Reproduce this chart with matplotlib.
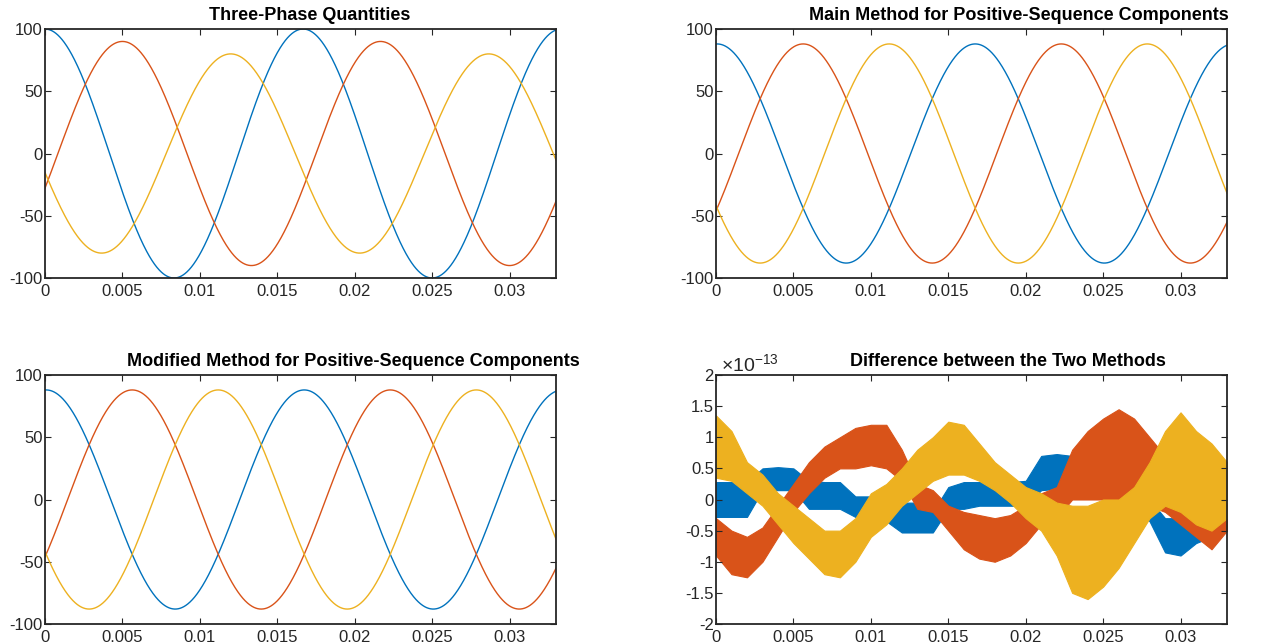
import numpy as np
import matplotlib
matplotlib.use('Agg')
import matplotlib.pyplot as plt

plt.rcParams['font.family'] = ['Liberation Sans', 'DejaVu Sans']
plt.rcParams['axes.unicode_minus'] = False
plt.rcParams['mathtext.fontset'] = 'custom'
plt.rcParams['mathtext.rm'] = 'Liberation Sans'
plt.rcParams['mathtext.it'] = 'Liberation Sans:italic'

# ---------------- data ----------------
freq_hz = 60.0
t_end = 0.033
# three-phase quantities (amplitude, phase in degrees of a cosine)
phase_amp = [100, 90, 80]
phase_deg = [0, -108, 101]
# positive-sequence components (same for main and modified method)
posseq_amp = [88, 88, 88]
posseq_deg = [-1.6, -121.6, 118.4]

xtick_vals = [0, 0.005, 0.01, 0.015, 0.02, 0.025, 0.03]
xtick_labels = ['0', '0.005', '0.01', '0.015', '0.02', '0.025', '0.03']
ytick_vals = [-100, -50, 0, 50, 100]
ytick_labels = ['-100', '-50', '0', '50', '100']
dtick_vals = [-2, -1.5, -1, -0.5, 0, 0.5, 1, 1.5, 2]
dtick_labels = ['-2', '-1.5', '-1', '-0.5', '0', '0.5', '1', '1.5', '2']

titles = ['Three-Phase Quantities',
          'Main Method for Positive-Sequence Components',
          'Modified Method for Positive-Sequence Components',
          'Difference between the Two Methods']

# difference between methods: envelope (x 1e-13) sampled every 1 ms
diff_t_ms = list(range(0, 34))
blue_lo = [-0.28, -0.28, -0.28, 0.15, 0.15, 0.15, -0.15, -0.15, -0.15, -0.28, -0.28, -0.35,
           -0.53, -0.53, -0.53, -0.15, -0.15, -0.10, -0.10, -0.10, -0.10, 0.15, 0.17, 0.17,
           0.10, 0.0, 0.0, -0.10, -0.35, -0.85, -0.90, -0.70, -0.60, -0.40]
blue_hi = [0.28, 0.28, 0.28, 0.50, 0.52, 0.50, 0.30, 0.28, 0.28, 0.05, 0.05, 0.0,
           -0.05, -0.05, -0.20, 0.20, 0.28, 0.28, 0.28, 0.28, 0.30, 0.70, 0.73, 0.70,
           0.50, 0.40, 0.35, 0.30, 0.0, -0.30, -0.30, -0.10, 0.10, 0.10]
red_lo = [-0.9, -1.2, -1.25, -1.0, -0.6, -0.2, 0.1, 0.35, 0.5, 0.5, 0.55, 0.5,
          0.3, -0.15, -0.2, -0.5, -0.8, -0.95, -1.0, -0.9, -0.7, -0.4, -0.3, 0.0,
          0.0, 0.0, 0.0, 0.0, -0.1, -0.2, -0.4, -0.6, -0.8, -0.5]
red_hi = [-0.3, -0.5, -0.6, -0.45, -0.1, 0.25, 0.6, 0.85, 1.0, 1.15, 1.2, 1.2,
          0.8, 0.25, 0.15, -0.1, -0.2, -0.25, -0.3, -0.25, -0.1, 0.1, 0.2, 0.8,
          1.1, 1.3, 1.45, 1.3, 1.0, 0.7, 0.5, 0.3, 0.1, 0.0]
yel_lo = [0.35, 0.3, 0.1, -0.1, -0.4, -0.7, -0.95, -1.2, -1.25, -1.0, -0.6, -0.4,
          -0.1, 0.1, 0.3, 0.4, 0.4, 0.3, 0.15, -0.05, -0.3, -0.5, -0.9, -1.5,
          -1.6, -1.4, -1.1, -0.7, -0.3, -0.1, -0.2, -0.4, -0.5, -0.3]
yel_hi = [1.35, 1.1, 0.6, 0.4, 0.1, -0.1, -0.3, -0.5, -0.5, -0.3, 0.1, 0.25,
          0.5, 0.8, 1.0, 1.25, 1.2, 0.9, 0.6, 0.4, 0.2, 0.1, -0.05, -0.1,
          -0.1, 0.0, 0.0, 0.2, 0.6, 1.1, 1.4, 1.1, 0.9, 0.6]

colors = ['#0072BD', '#D95319', '#EDB120']
ink = '#262626'
tick_fs = 12

# ---------------- figure ----------------
W, H = 1280, 644
fig = plt.figure(figsize=(W / 100, H / 100), dpi=100)


def make_axes(l, r, top, bot):
    return fig.add_axes([l / W, 1 - bot / H, (r - l) / W, (bot - top) / H])


ax_tl = make_axes(45, 556, 29, 278)
ax_tr = make_axes(716, 1227, 29, 278)
ax_bl = make_axes(45, 556, 375, 624)
ax_br = make_axes(716, 1227, 375, 624)


def style(ax, yv, yl):
    ax.set_xlim(0, t_end)
    ax.set_xticks(xtick_vals)
    ax.set_xticklabels(xtick_labels)
    ax.set_yticks(yv)
    ax.set_yticklabels(yl)
    ax.set_ylim(yv[0], yv[-1])
    ax.tick_params(direction='in', top=True, right=True, length=4, width=0.8,
                   colors=ink, labelsize=tick_fs)
    ax.tick_params(axis='x', pad=4)
    ax.tick_params(axis='y', pad=1.5)
    for s in ax.spines.values():
        s.set_linewidth(1.3)
        s.set_color(ink)


t = np.linspace(0, t_end, 3301)
w = 2 * np.pi * freq_hz

for a, p, c in zip(phase_amp, phase_deg, colors):
    ax_tl.plot(t, a * np.cos(w * t + np.deg2rad(p)), color=c, lw=1.0)
for ax in (ax_tr, ax_bl):
    for a, p, c in zip(posseq_amp, posseq_deg, colors):
        ax.plot(t, a * np.cos(w * t + np.deg2rad(p)), color=c, lw=1.0)

td = np.array(diff_t_ms) / 1000.0
for lo, hi, c in [(blue_lo, blue_hi, colors[0]), (red_lo, red_hi, colors[1]),
                  (yel_lo, yel_hi, colors[2])]:
    ax_br.fill_between(td, lo, hi, color=c, lw=0.8, edgecolor=c)

for ax in (ax_tl, ax_tr, ax_bl):
    style(ax, ytick_vals, ytick_labels)
style(ax_br, dtick_vals, dtick_labels)
ax_br.text(0.01, 1.0, r'$\times10^{-13}$', transform=ax_br.transAxes,
           ha='left', va='bottom', fontsize=14, color=ink)

# titles
title_pos = [(310, 16), (1019, 16), (353, 362), (1008, 362)]
for (x, y), ttl in zip(title_pos, titles):
    fig.text(x / W, 1 - y / H, ttl, ha='center', va='center',
             fontsize=13, fontweight='bold', color='black')

fig.savefig('out.png', dpi=100, facecolor='white')
